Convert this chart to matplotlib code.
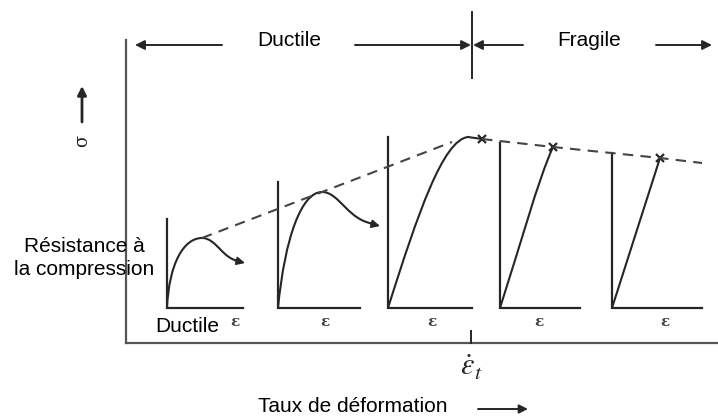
import matplotlib.pyplot as plt
from matplotlib.path import Path
from matplotlib.patches import PathPatch

# schematic, pixel units (y grows downward)
axis_x0, axis_y0 = 126, 343
axis_top, axis_right = 40, 718
tick_x = 471

panel_left = [167, 278, 388, 500, 612]
panel_right = [243, 360, 472, 580, 702]
panel_top = [219, 182, 137, 143, 153]
panel_base = 308
eps_label_x = [235, 325, 432, 539, 665]

# stress-strain curves, bezier control points relative to panel origin (dx, rise)
curve_pts = [
    [(0, 0), (2, 45), (17, 70), (35, 70), (50, 70), (56, 47), (74, 47)],
    [(0, 0), (7, 72), (24, 116), (44, 116), (62, 116), (70, 86), (98, 84)],
    [(0, 0), (30, 95), (55, 168), (80, 171)],
    [(0, 0), (20, 62), (38, 128), (53, 161)],
    [(0, 0), (16, 50), (32, 100), (48, 150)],
]
ductile_panels = [0, 1]
fracture_panels = [2, 3, 4]
fracture_pts = [(94, 169), (53, 161), (48, 150)]

env_ductile_x = [202, 322, 452]
env_ductile_y = [238, 192, 142]
env_brittle_x = [482, 553, 660, 702]
env_brittle_y = [139, 147, 158, 163]

ink = '#262626'
sans = 'Liberation Sans'

fig = plt.figure(figsize=(7.18, 4.18), dpi=100)
ax = fig.add_axes([0, 0, 1, 1])
ax.set_xlim(0, 718)
ax.set_ylim(418, 0)
ax.axis('off')


def arrow(x0, y0, x1, y1, size=14, lw=1.4):
    ax.annotate('', xy=(x1, y1), xytext=(x0, y0),
                arrowprops=dict(arrowstyle='-|>', color=ink, lw=lw,
                                mutation_scale=size, shrinkA=0, shrinkB=0))


# main axes
ax.plot([axis_x0, axis_x0], [axis_top, axis_y0], color='#555555', lw=1.6)
ax.plot([axis_x0, axis_right], [axis_y0, axis_y0], color='#555555', lw=1.6)
ax.plot([tick_x, tick_x], [331, axis_y0], color=ink, lw=1.4)
ax.text(tick_x, 367, r'$\dot{\varepsilon}_t$', fontsize=22, ha='center', va='center',
        math_fontfamily='stix', color=ink)

# ductile / fragile banner
arrow(222, 45, 135, 45)
ax.text(289, 41, 'Ductile', fontsize=15, family=sans, ha='center', va='center')
arrow(355, 45, 471, 45)
ax.plot([472, 472], [12, 78], color=ink, lw=1.4)
arrow(523, 45, 473, 45)
ax.text(589, 41, 'Fragile', fontsize=15, family=sans, ha='center', va='center')
arrow(656, 45, 712, 45)

# sigma label
arrow(82, 122, 82, 86, size=13, lw=2)
ax.text(82, 141, 'σ', fontsize=13, family='DejaVu Serif', rotation=90,
        ha='center', va='center', color=ink)

ax.text(84, 258, 'Résistance à\nla compression', fontsize=15, family=sans,
        ha='center', va='center', linespacing=1.3)
ax.text(187, 327, 'Ductile', fontsize=15, family=sans, ha='center', va='center')
ax.text(353, 407, 'Taux de déformation', fontsize=15, family=sans,
        ha='center', va='center')
arrow(478, 409, 528, 409, size=13)

# small stress-strain panels
for i in range(len(panel_left)):
    x0 = panel_left[i]
    ax.plot([x0, x0, panel_right[i]], [panel_top[i], panel_base, panel_base],
            color=ink, lw=1.6, solid_joinstyle='miter')
    ax.text(eps_label_x[i], 322, 'ε', fontsize=11, family='DejaVu Serif',
            weight='bold', ha='center', va='center', color='#444444')
    pts = [(x0 + dx, panel_base - dy) for dx, dy in curve_pts[i]]
    codes = [Path.MOVETO] + [Path.CURVE4] * (len(pts) - 1)
    ax.add_patch(PathPatch(Path(pts, codes), fill=False, edgecolor=ink, lw=1.5))
    if i in ductile_panels:
        bx, by = pts[-1]
        arrow(bx - 6, by - 0.5, bx + 4, by + 2, size=12, lw=1.3)

for i, (dx, dy) in zip(fracture_panels, fracture_pts):
    x0 = panel_left[i]
    last = (x0 + curve_pts[i][-1][0], panel_base - curve_pts[i][-1][1])
    ax.plot([last[0], x0 + dx], [last[1], panel_base - dy], color=ink, lw=1.5)
    ax.plot(x0 + dx, panel_base - dy, marker='x', ms=6, mew=1.6, color=ink)

# strength envelope
ax.plot(env_ductile_x, env_ductile_y, ls=(0, (5, 3.5)), color='#444444', lw=1.5)
ax.plot(env_brittle_x, env_brittle_y, ls=(0, (5, 3.5)), color='#444444', lw=1.5)

fig.savefig('out.png', dpi=100)
